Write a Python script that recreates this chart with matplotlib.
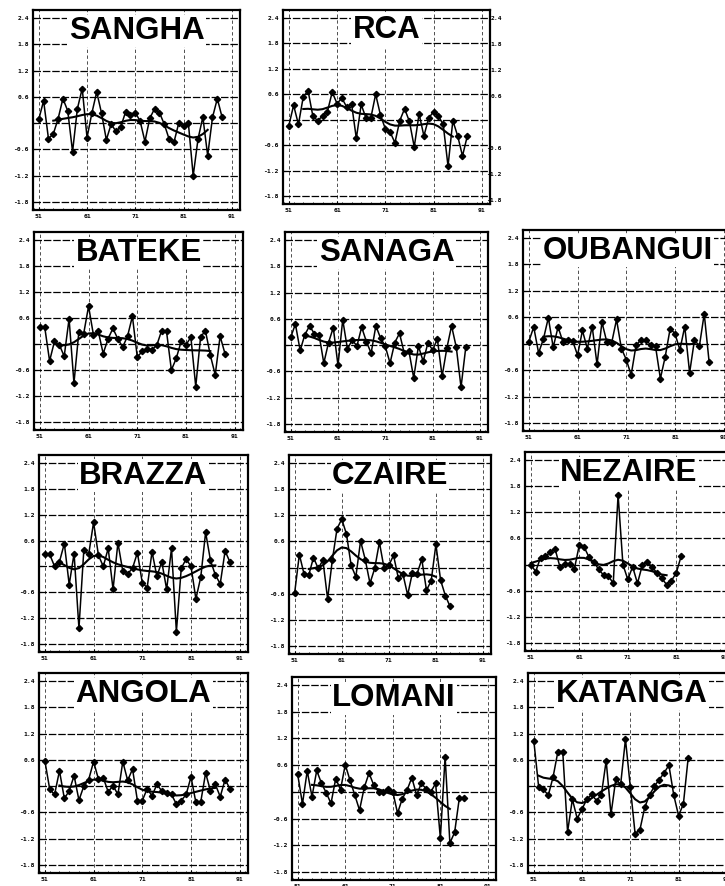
import numpy as np
import matplotlib
matplotlib.use("Agg")
import matplotlib.pyplot as plt

# ---------------- data (annual anomalies, years 1951 ->) ----------------
start_year = 51
sangha = [0.09, 0.51, -0.35, -0.25, 0.10, 0.56, 0.28, -0.65, 0.33, 0.79, -0.33, 0.23, 0.71,
          0.23, -0.38, -0.02, -0.19, -0.08, 0.26, 0.18, 0.24, 0.05, -0.42, 0.11, 0.33, 0.24,
          -0.02, -0.36, -0.44, 0.00, -0.06, 0.00, -1.20, -0.36, 0.14, -0.74, 0.13, 0.56, 0.13]
rca = [-0.14, 0.34, -0.11, 0.54, 0.68, 0.08, -0.02, 0.09, 0.19, 0.65, 0.38, 0.51, 0.30, 0.38,
       -0.44, 0.36, 0.04, 0.04, 0.60, 0.11, -0.21, -0.29, -0.54, -0.02, 0.26, -0.04, -0.64,
       0.14, -0.38, 0.04, 0.19, 0.09, -0.11, -1.09, -0.02, -0.38, -0.85, -0.38]
bateke = [0.39, 0.39, -0.39, 0.06, -0.02, -0.28, 0.58, -0.90, 0.27, 0.24, 0.87, 0.21, 0.29,
          -0.22, 0.12, 0.36, 0.12, -0.07, 0.18, 0.64, -0.30, -0.17, -0.11, -0.13, -0.03, 0.31,
          0.29, -0.60, -0.33, 0.06, -0.02, 0.16, -0.98, 0.17, 0.30, -0.26, -0.71, 0.18, -0.22]
sanaga = [0.18, 0.48, -0.12, 0.24, 0.44, 0.26, 0.24, -0.41, 0.06, 0.40, -0.46, 0.58, -0.09,
          0.12, -0.02, 0.41, 0.08, -0.18, 0.44, 0.16, -0.03, -0.41, 0.06, 0.27, -0.18, -0.14,
          -0.75, -0.02, -0.37, 0.05, -0.11, 0.14, -0.71, -0.07, 0.44, -0.05, -0.96, -0.05]
oubangui = [0.05, 0.38, -0.21, 0.11, 0.59, -0.08, 0.38, 0.04, 0.08, 0.06, -0.26, 0.30, -0.11,
            0.39, -0.47, 0.49, 0.04, 0.02, 0.55, -0.11, -0.36, -0.71, -0.04, 0.09, 0.08, -0.02,
            -0.06, -0.79, -0.29, 0.34, 0.23, -0.14, 0.39, -0.66, 0.09, -0.06, 0.68, -0.41]
brazza = [0.30, 0.28, 0.00, 0.11, 0.53, -0.42, 0.30, -1.43, 0.38, 0.28, 1.02, 0.26, 0.00,
          0.42, -0.53, 0.55, -0.11, -0.17, -0.04, 0.32, -0.38, -0.49, 0.34, -0.23, 0.11, -0.53,
          0.42, -1.51, -0.04, 0.17, 0.00, -0.75, -0.25, 0.79, 0.14, -0.20, -0.40, 0.36, 0.10]
czaire = [-0.58, 0.30, -0.15, -0.17, 0.23, -0.02, 0.17, -0.72, 0.17, 0.89, 1.11, 0.77, 0.05,
          -0.21, 0.61, 0.18, -0.36, -0.02, 0.58, -0.02, 0.05, 0.28, -0.23, -0.15, -0.63, -0.12,
          -0.14, 0.19, -0.52, -0.30, 0.53, -0.29, -0.64, -0.89]
nezaire = [0.00, -0.16, 0.16, 0.19, 0.28, 0.36, -0.05, 0.02, 0.01, -0.09, 0.45, 0.40, 0.17,
           0.06, -0.11, -0.24, -0.26, -0.43, 1.60, 0.00, -0.34, -0.05, -0.43, -0.01, 0.06,
           -0.05, -0.19, -0.31, -0.46, -0.37, -0.19, 0.19]
angola = [0.58, -0.07, -0.19, 0.35, -0.28, -0.11, 0.24, -0.32, 0.00, 0.15, 0.56, 0.16, 0.19,
          -0.13, 0.01, -0.19, 0.56, 0.13, 0.39, -0.33, -0.33, -0.06, -0.22, 0.04, -0.11, -0.15,
          -0.19, -0.41, -0.33, -0.19, 0.21, -0.37, -0.36, 0.30, -0.11, 0.04, -0.24, 0.15, -0.06]
lomani = [0.39, -0.27, 0.47, -0.11, 0.48, 0.19, -0.02, -0.26, 0.30, 0.05, 0.61, 0.26, -0.07,
          -0.41, 0.10, 0.42, 0.15, 0.00, 0.00, 0.07, 0.00, -0.48, -0.15, 0.04, 0.32, -0.07,
          0.19, 0.07, 0.00, 0.19, -1.04, 0.79, -1.15, -0.91, -0.13, -0.13]
katanga = [1.04, -0.01, -0.07, -0.21, 0.21, 0.79, 0.79, -1.04, -0.30, -0.74, -0.52, -0.30,
           -0.19, -0.33, -0.20, 0.58, -0.64, 0.16, 0.04, 1.07, -0.01, -1.09, -0.99, -0.48,
           -0.20, 0.00, 0.15, 0.30, 0.48, -0.20, -0.67, -0.41, 0.65]

titles = ["SANGHA", "RCA", "BATEKE", "SANAGA", "OUBANGUI", "BRAZZA", "CZAIRE",
          "NEZAIRE", "ANGOLA", "LOMANI", "KATANGA"]
series = [sangha, rca, bateke, sanaga, oubangui, brazza, czaire, nezaire, angola, lomani, katanga]

yticks = [2.4, 1.8, 1.2, 0.6, 0.0, -0.6, -1.2, -1.8]
ytick_labels = ["2.4", "1.8", "1.2", "0.6", "", "-0.6", "-1.2", "-1.8"]
xticks = [51, 61, 71, 81, 91]
xtick_labels = ["51", "61", "71", "81", "91"]

# ---------------- layout (pixel boxes: left, top, right, bottom) ----------------
W, H = 725, 886
boxes = [(33, 10, 240, 210), (283, 10, 490, 204),
         (34, 232, 243, 430), (285, 232, 488, 432), (523, 230, 732, 431),
         (39, 455, 248, 652), (289, 455, 491, 654), (525, 452, 733, 651),
         (39, 673, 248, 873), (292, 677, 496, 880), (528, 673, 735, 873)]
smooth_trim = [(3, 3), (3, 3), (3, 3), (3, 3), (3, 3), (3, 3), (3, 3), (0, 3), (3, 3), (3, 3), (1, 3)]


def rect(l, t, r, b):
    return [l / W, 1 - b / H, (r - l) / W, (b - t) / H]


def smooth(v, sigma=2.2, half=8):
    v = np.asarray(v, float)
    n = len(v)
    out = np.empty(n)
    for i in range(n):
        idx = np.arange(max(0, i - half), min(n, i + half + 1))
        w = np.exp(-0.5 * ((idx - i) / sigma) ** 2)
        out[i] = np.sum(w * v[idx]) / np.sum(w)
    return out


fig = plt.figure(figsize=(W / 100, H / 100), dpi=100)
fig.patch.set_facecolor("white")
tick_font = dict(family="DejaVu Sans Mono", weight="bold", size=4.6)

for title, vals, box, trim in zip(titles, series, boxes, smooth_trim):
    ax = fig.add_axes(rect(*box))
    yrs = start_year + np.arange(len(vals))
    ax.set_xlim(49.8, 92.7)
    ax.set_ylim(-1.98, 2.58)
    for y in yticks:
        ax.axhline(y, color="black", lw=0.9, ls=(0, (6, 1.5)), zorder=1)
    for x in xticks:
        ax.axvline(x, color="black", lw=0.6, ls=(0, (4, 3)), alpha=0.8, zorder=1)
    sm = smooth(vals)
    a, b = trim
    ax.plot(yrs[a:len(vals) - b], sm[a:len(vals) - b], color="black", lw=1.5, zorder=3)
    ax.plot(yrs, vals, color="black", lw=1.1, marker="D", ms=3.2, mfc="black",
            mec="black", zorder=4)
    ax.set_yticks(yticks)
    ax.set_yticklabels(ytick_labels, fontdict=tick_font)
    ax.set_xticks(xticks)
    ax.set_xticklabels(xtick_labels, fontdict=tick_font)
    ax.tick_params(axis="both", length=2, width=0.8, pad=3, direction="in")
    ax.xaxis.set_minor_locator(matplotlib.ticker.MultipleLocator(2))
    ax.tick_params(axis="x", which="minor", length=1.5, width=0.6, direction="in")
    for s in ax.spines.values():
        s.set_linewidth(1.6)
    ax.text(0.5, 0.895, title, transform=ax.transAxes, ha="center", va="center",
            fontsize=22.5, fontweight="bold", family="Liberation Sans", zorder=5,
            bbox=dict(facecolor="white", edgecolor="none", pad=0.8))

# ghost tick labels to the right of RCA (remains of a missing panel)
gax = fig.add_axes(rect(506, 10, 700, 208))
gax.set_ylim(-1.98, 2.58)
gax.set_yticks(yticks)
gax.set_yticklabels(ytick_labels, fontdict=tick_font)
gax.set_xticks([])
gax.tick_params(axis="y", length=0, pad=3)
for s in gax.spines.values():
    s.set_visible(False)
gax.patch.set_alpha(0)

fig.savefig("out.png", dpi=100)
